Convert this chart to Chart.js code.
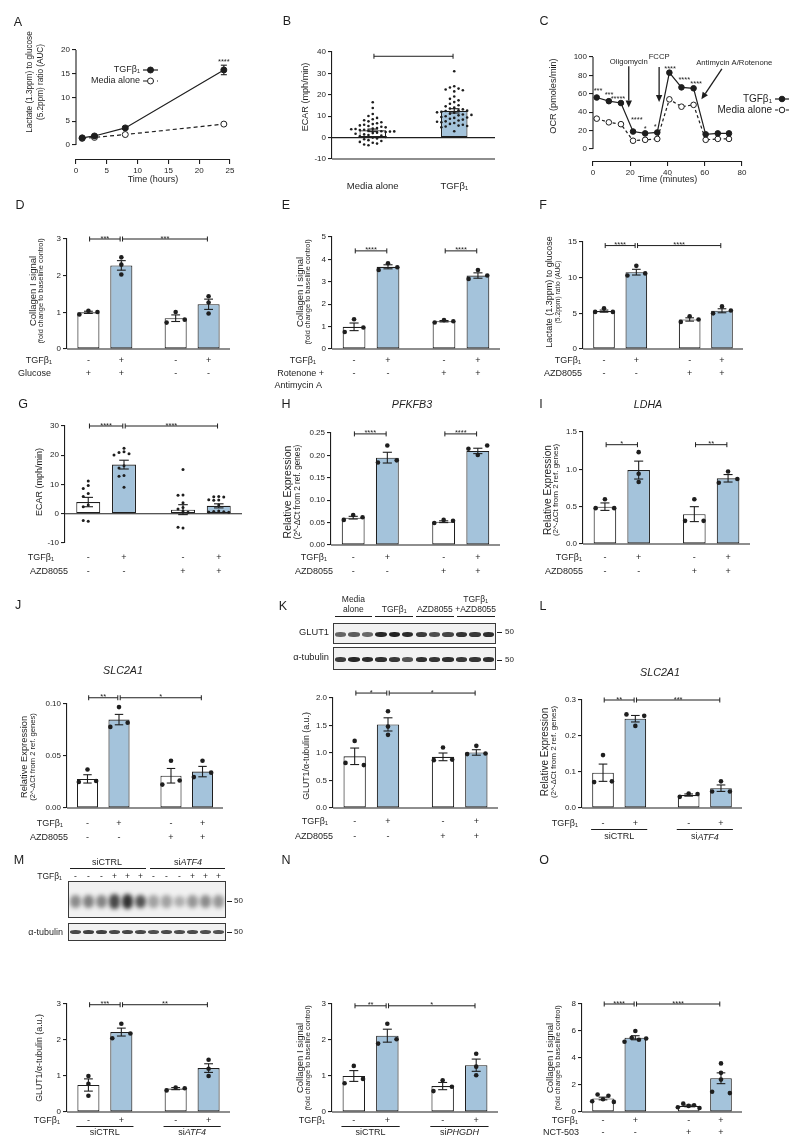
<!DOCTYPE html>
<html>
<head>
<meta charset="utf-8">
<script src="https://cdn.jsdelivr.net/npm/chart.js@4.4.1/dist/chart.umd.min.js"></script>
<style>
html,body{margin:0;padding:0;background:#fff;}
#fig{position:relative;width:800px;height:1137px;overflow:hidden;background:#fff;font-family:"Liberation Sans",Arial,Helvetica,sans-serif;color:#1e1e1e;}
#fig canvas{position:absolute;}
.t{position:absolute;white-space:nowrap;line-height:1;}
.blot{position:absolute;border:1px solid #3a3a3a;background:#f1f1f1;overflow:hidden;box-sizing:border-box;}
.band{position:absolute;border-radius:45%;}
.hl{position:absolute;height:0;border-top:1px solid #1e1e1e;}
</style>
</head>
<body>
<div id="fig"></div>
<script>
/* ================= DATA ================= */
// Panel A
const timeA = [1, 3, 8, 24];
const tgfA = [1.5, 1.9, 3.6, 15.8];
const tgfSemA = [0.1, 0.2, 0.3, 1.0];
const mediaA = [1.4, 1.6, 2.2, 4.4];
const xTicksA = [0, 5, 10, 15, 20, 25];
const yTicksA = [0, 5, 10, 15, 20];
const seriesNames = ['TGFβ₁', 'Media alone'];

// Panel B
const groupsB = ['Media alone', 'TGFβ₁'];
const meanB = [3.4, 12.5];
const semB = [0.6, 1.0];
const mediaPtsB = [16.5, 13.8, 11.0, 10.1, 9.2, 8.6, 8.1, 7.6, 7.2, 6.7, 6.3, 6.0, 5.7, 5.4, 5.1, 4.8, 4.5, 4.2, 4.0, 3.7, 3.5, 3.3, 3.0, 2.8, 2.6, 2.3, 2.1, 1.8, 1.5, 1.2, 0.9, 0.6, 0.3, 0.0, -0.4, -0.8, -1.2, -1.6, -2.0, -2.4, -2.8, -3.2, -3.6, 3.9, 2.9];
const tgfPtsB = [31.0, 24.0, 23.4, 22.9, 22.5, 22.1, 21.6, 19.2, 18.1, 17.4, 16.6, 15.8, 15.1, 14.6, 14.0, 13.6, 13.2, 12.8, 12.4, 12.0, 11.6, 11.2, 10.8, 10.4, 10.0, 9.6, 9.2, 8.8, 8.4, 8.0, 7.6, 7.2, 6.8, 6.4, 6.0, 5.6, 5.2, 4.8, 3.0, 12.6, 11.8, 10.6, 9.4, 7.4, 5.4];
const yTicksB = [-10, 0, 10, 20, 30, 40];

// Panel C
const timeC = [2, 8.5, 15, 21.5, 28, 34.5, 41, 47.5, 54, 60.5, 67, 73];
const tgfC = [56, 52, 50, 19, 17, 18, 83, 67, 66, 16, 17, 17];
const mediaC = [33, 29, 27, 9, 10, 11, 54, 46, 48, 10, 11, 11];
const xTicksC = [0, 20, 40, 60, 80];
const yTicksC = [0, 20, 40, 60, 80, 100];
const injectionsC = ['Oligomycin', 'FCCP', 'Antimycin A/Rotenone'];
const starsC = ['***', '***', '*****', '****', '*', '*', '****', '****', '****'];

// condition rows
const tgfMarks = ['-', '+', '-', '+'];
const drugMarks = ['-', '-', '+', '+'];
const glucoseMarks = ['+', '+', '-', '-'];
const laneTgfM = ['-', '-', '-', '+', '+', '+', '-', '-', '-', '+', '+', '+'];
const siCtrlLabel = [['si', ''], ['CTRL', '']];
const siAtf4Label = [['si', ''], ['ATF4', 'italic']];
const siPhgdhLabel = [['si', ''], ['PHGDH', 'italic']];

// Panel D
const meanD = [1.00, 2.28, 0.84, 1.22];
const semD = [0.03, 0.13, 0.09, 0.14];
const ptsD = [[0.94, 1.04, 1.01], [2.50, 2.30, 2.03], [0.72, 1.01, 0.80], [1.44, 1.27, 0.97]];
const yTicksD = [0, 1, 2, 3];
// Panel E
const meanE = [0.99, 3.67, 1.24, 3.28];
const semE = [0.17, 0.09, 0.03, 0.12];
const ptsE = [[0.76, 1.33, 0.96], [3.53, 3.83, 3.65], [1.18, 1.29, 1.24], [3.13, 3.53, 3.28]];
const yTicksE = [0, 1, 2, 3, 4, 5];
// Panel F
const meanF = [5.31, 10.77, 4.14, 5.36];
const semF = [0.15, 0.40, 0.23, 0.28];
const ptsF = [[5.2, 5.7, 5.2], [10.3, 11.66, 10.6], [3.8, 4.6, 4.14], [5.0, 5.97, 5.4]];
const yTicksF = [0, 5, 10, 15];
// Panel G
const meanG = [4.0, 16.8, 1.4, 2.7];
const semG = [1.6, 1.5, 1.7, 0.7];
const ptsG = [[11.2, 9.7, 8.6, 6.9, 5.9, 3.0, 2.4, -2.6, -2.3],
              [22.4, 21.2, 20.9, 20.5, 20.1, 16.4, 15.6, 13.1, 12.8, 9.1],
              [15.1, 6.4, 6.3, 3.8, 2.1, 1.6, 0.9, 0.5, -4.9, -4.6],
              [5.9, 5.8, 5.7, 4.8, 4.7, 4.6, 3.0, 0.9, 0.8, 0.7, 0.6, 0.5]];
const yTicksG = [-10, 0, 10, 20, 30];
// Panel H
const meanH = [0.061, 0.195, 0.052, 0.210];
const semH = [0.003, 0.012, 0.002, 0.006];
const ptsH = [[0.056, 0.067, 0.062], [0.184, 0.222, 0.189], [0.049, 0.056, 0.054], [0.201, 0.215, 0.222]];
const yTicksH = [0, 0.05, 0.10, 0.15, 0.20, 0.25];
// Panel I
const meanI = [0.50, 0.99, 0.40, 0.88];
const semI = [0.05, 0.12, 0.10, 0.05];
const ptsI = [[0.48, 0.60, 0.48], [0.83, 1.23, 0.94], [0.31, 0.60, 0.31], [0.82, 0.97, 0.87]];
const yTicksI = [0, 0.5, 1.0, 1.5];
// Panel J
const meanJ = [0.028, 0.085, 0.031, 0.035];
const semJ = [0.004, 0.005, 0.007, 0.005];
const ptsJ = [[0.025, 0.037, 0.026], [0.078, 0.097, 0.082], [0.0225, 0.0454, 0.0265], [0.0297, 0.0454, 0.034]];
const yTicksJ = [0, 0.05, 0.10];
// Panel K
const meanK = [0.94, 1.52, 0.93, 1.01];
const semK = [0.15, 0.12, 0.07, 0.05];
const ptsK = [[0.82, 1.22, 0.78], [1.76, 1.48, 1.33], [0.87, 1.10, 0.88], [0.98, 1.13, 0.99]];
const yTicksK = [0, 0.5, 1.0, 1.5, 2.0];
const laneGroupsK = ['TGFβ₁', 'AZD8055'];
const glutBandsK = [0.62, 0.66, 0.6, 0.9, 0.92, 0.88, 0.8, 0.72, 0.76, 0.84, 0.82, 0.86];
const tubBandsK = [0.8, 0.9, 0.88, 0.86, 0.82, 0.7, 0.86, 0.84, 0.86, 0.82, 0.84, 0.86];
// Panel L
const meanL = [0.098, 0.248, 0.036, 0.055];
const semL = [0.024, 0.009, 0.003, 0.009];
const ptsL = [[0.072, 0.147, 0.074], [0.26, 0.228, 0.256], [0.031, 0.04, 0.039], [0.046, 0.074, 0.046]];
const yTicksL = [0, 0.1, 0.2, 0.3];
// Panel M
const meanM = [0.75, 2.22, 0.65, 1.22];
const semM = [0.17, 0.11, 0.03, 0.12];
const ptsM = [[0.45, 1.0, 0.78], [2.05, 2.45, 2.18], [0.6, 0.68, 0.66], [1.0, 1.45, 1.2]];
const yTicksM = [0, 1, 2, 3];
const glutBandsM = [0.45, 0.5, 0.48, 0.75, 0.85, 0.7, 0.35, 0.35, 0.3, 0.4, 0.45, 0.4];
const tubBandsM = [0.75, 0.78, 0.78, 0.75, 0.76, 0.75, 0.72, 0.74, 0.72, 0.74, 0.72, 0.7];
// Panel N
const meanN = [1.0, 2.12, 0.72, 1.3];
const semN = [0.15, 0.18, 0.10, 0.17];
const ptsN = [[0.8, 1.28, 0.92], [1.9, 2.45, 2.02], [0.58, 0.88, 0.7], [1.02, 1.62, 1.26]];
const yTicksN = [0, 1, 2, 3];
// Panel O
const meanO = [1.0, 5.5, 0.45, 2.5];
const semO = [0.10, 0.15, 0.06, 0.40];
const ptsO = [[0.8, 1.3, 0.95, 1.2, 0.75], [5.2, 6.0, 5.5, 5.35, 5.45], [0.35, 0.62, 0.45, 0.5, 0.3], [1.5, 3.6, 2.4, 2.9, 1.4]];
const yTicksO = [0, 2, 4, 6, 8];

/* ================= HELPERS ================= */
const FF = '"Liberation Sans", Arial, Helvetica, sans-serif';
const INK = '#1e1e1e';
const BLUE = 'rgb(164,195,219)';
const WHITE = '#ffffff';
Chart.defaults.font.family = FF;
Chart.defaults.color = INK;
const fig = document.getElementById('fig');
const CFG = {};

function font(size, style) { return (style ? style + ' ' : '') + size + 'px ' + FF; }
function line(ctx, x1, y1, x2, y2) { ctx.beginPath(); ctx.moveTo(x1, y1); ctx.lineTo(x2, y2); ctx.stroke(); }
function arrow(ctx, x1, y1, x2, y2) {
  const a = Math.atan2(y2 - y1, x2 - x1), L = 7, W = 3.2;
  const bx = x2 - L * Math.cos(a), by = y2 - L * Math.sin(a);
  ctx.lineWidth = 1.3; line(ctx, x1, y1, bx, by);
  ctx.beginPath(); ctx.moveTo(x2, y2);
  ctx.lineTo(bx + W * Math.sin(a), by - W * Math.cos(a));
  ctx.lineTo(bx - W * Math.sin(a), by + W * Math.cos(a));
  ctx.closePath(); ctx.fill();
}
function segText(ctx, segs, cx, y, size) {
  let total = 0;
  segs.forEach(s => { ctx.font = font(size, s[1]); total += ctx.measureText(s[0]).width; });
  let x = cx - total / 2; ctx.textAlign = 'left';
  segs.forEach(s => { ctx.font = font(size, s[1]); ctx.fillText(s[0], x, y); x += ctx.measureText(s[0]).width; });
}
function txt(html, x, y, size, anchor, style) {
  const d = document.createElement('div'); d.className = 't'; d.innerHTML = html;
  const tx = anchor === 'r' ? '-100%' : anchor === 'l' ? '0' : '-50%';
  d.style.cssText += 'left:' + x + 'px;top:' + y + 'px;font-size:' + size + 'px;transform:translate(' + tx + ',-50%);' + (style || '');
  fig.appendChild(d);
}
function hline(x1, x2, y) {
  const d = document.createElement('div'); d.className = 'hl';
  d.style.left = x1 + 'px'; d.style.top = y + 'px'; d.style.width = (x2 - x1) + 'px';
  fig.appendChild(d);
}
function blot(x, y, w, h, bands, bandH, dy, blur) {
  const b = document.createElement('div'); b.className = 'blot';
  Object.assign(b.style, {left: x + 'px', top: y + 'px', width: w + 'px', height: h + 'px'});
  const lw = (w - 2) / bands.length;
  bands.forEach((a, i) => {
    const d = document.createElement('div'); d.className = 'band';
    const hh = bandH * (0.75 + 0.35 * a);
    Object.assign(d.style, {left: (i * lw + lw * 0.08) + 'px', width: (lw * 0.84) + 'px',
      top: ((h - 2) / 2 + dy - hh / 2) + 'px', height: hh + 'px',
      background: 'rgba(15,15,15,' + a + ')', filter: 'blur(' + blur + 'px)'});
    b.appendChild(d);
  });
  fig.appendChild(b);
}
function addCanvas(id, box) {
  const c = document.createElement('canvas'); c.id = id;
  c.width = box[2]; c.height = box[3];
  c.style.left = box[0] + 'px'; c.style.top = box[1] + 'px';
  c.style.width = box[2] + 'px'; c.style.height = box[3] + 'px';
  fig.appendChild(c); return c;
}

/* ---------- plugin drawing ---------- */
function swarm(chart, c) {
  const bars = chart.getDatasetMeta(0).data;
  const meta = chart.getDatasetMeta(1);
  const grp = chart.data.datasets[1].grp;
  const groups = [];
  meta.data.forEach((el, i) => { const g = grp[i]; (groups[g] = groups[g] || []).push(el); });
  groups.forEach((els, gi) => {
    if (!els) return;
    const bw = bars[gi].width;
    if (c.swarm) {
      const s = c.swarm.step, md = c.swarm.minDy, placed = [];
      els.forEach(el => {
        const bx = el.x;
        for (let k = 0; k < 80; k++) {
          const off = Math.ceil(k / 2) * (k % 2 ? -1 : 1) * s;
          if (!placed.some(p => Math.abs(p.off - off) < 0.01 && Math.abs(p.y - el.y) < md)) {
            el.x = bx + off; placed.push({off: off, y: el.y}); break;
          }
        }
      });
    } else {
      const th = 6, d = bw * 0.41, W = bw * 0.5;
      const order = els.map((_, i) => i).sort((a, b) => els[a].y - els[b].y);
      const clusters = []; let cur = [order[0]];
      for (let k = 1; k < order.length; k++) {
        if (els[order[k]].y - els[order[k - 1]].y < th) cur.push(order[k]);
        else { clusters.push(cur); cur = [order[k]]; }
      }
      clusters.push(cur);
      clusters.forEach(cl => {
        cl.sort((a, b) => a - b);
        const n = cl.length;
        cl.forEach((pi, j) => {
          let off = 0;
          if (n === 2) off = j ? d : -d;
          else if (n === 3) off = (j - 1) * d;
          else if (n > 3) off = -W + 2 * W * j / (n - 1);
          els[pi].x += off;
        });
      });
    }
  });
}
function baseAndErr(chart, c) {
  const ctx = chart.ctx, ys = chart.scales.y, ca = chart.chartArea, bars = chart.getDatasetMeta(0).data;
  ctx.save(); ctx.strokeStyle = INK; ctx.lineWidth = 1.1;
  const y0 = ys.getPixelForValue(0);
  line(ctx, ca.left, y0, ca.right, y0);
  if (c.bottomLine) line(ctx, ca.left, ca.bottom, ca.right, ca.bottom);
  c.means.forEach((m, i) => {
    const x = bars[i].x, hw = bars[i].width * 0.2;
    const t = ys.getPixelForValue(m + c.sems[i]), b = ys.getPixelForValue(m - c.sems[i]);
    line(ctx, x, t, x, b); line(ctx, x - hw, t, x + hw, t); line(ctx, x - hw, b, x + hw, b);
  });
  ctx.restore();
}
function bracketsDraw(chart, c) {
  const ctx = chart.ctx, ys = chart.scales.y, bars = chart.getDatasetMeta(0).data;
  ctx.save(); ctx.strokeStyle = INK; ctx.fillStyle = INK; ctx.lineWidth = 1;
  (c.brackets || []).forEach(b => {
    const x1 = bars[b[0]].x + 1.2, x2 = bars[b[1]].x - 1.2, y = ys.getPixelForValue(b[2]);
    line(ctx, x1, y, x2, y); line(ctx, x1, y - 2.5, x1, y + 2.5); line(ctx, x2, y - 2.5, x2, y + 2.5);
    if (b[3]) { ctx.font = font(7.5); ctx.textAlign = 'center'; ctx.textBaseline = 'alphabetic'; ctx.fillText(b[3], (x1 + x2) / 2, y + 1.5); }
  });
  ctx.restore();
}
function yLabel(chart, c) {
  const ctx = chart.ctx, L = c.ylab, ox = c.box[0], oy = c.box[1];
  const put = (t, x, s) => {
    ctx.save(); ctx.translate(x - ox, L.cy - oy); ctx.rotate(-Math.PI / 2);
    ctx.font = font(s); ctx.fillStyle = INK; ctx.textAlign = 'center'; ctx.textBaseline = 'middle';
    ctx.fillText(t, 0, 0); ctx.restore();
  };
  put(L.main, L.x, L.size);
  if (L.sub) put(L.sub, L.subX, L.subSize);
}
function rowsDraw(chart, c) {
  const ctx = chart.ctx, ox = c.box[0], oy = c.box[1], bars = chart.getDatasetMeta(0).data;
  ctx.save(); ctx.fillStyle = INK; ctx.strokeStyle = INK; ctx.lineWidth = 1; ctx.textBaseline = 'middle';
  (c.rows || []).forEach(r => {
    ctx.font = font(9); ctx.textAlign = 'right'; ctx.fillText(r.label, r.right - ox, r.y - oy);
    if (r.marks) { ctx.textAlign = 'center'; r.marks.forEach((m, i) => ctx.fillText(m, bars[i].x, r.y - oy)); }
  });
  if (c.under) c.under.groups.forEach(g => {
    const a = bars[g.from], b = bars[g.to];
    line(ctx, a.x - a.width * 0.55, c.under.lineY - oy, b.x + b.width * 0.55, c.under.lineY - oy);
    segText(ctx, g.label, (a.x + b.x) / 2, c.under.labelY - oy, 9);
  });
  if (c.cats) {
    ctx.font = font(9.5); ctx.textAlign = 'center';
    c.cats.labels.forEach((t, i) => ctx.fillText(t, bars[i].x, c.cats.y - oy));
  }
  ctx.restore();
}
function lineExtras(chart, c) {
  const ctx = chart.ctx, xs = chart.scales.x, ys = chart.scales.y, ca = chart.chartArea, oy = c.box[1];
  ctx.save(); ctx.strokeStyle = INK; ctx.fillStyle = INK; ctx.lineWidth = 1.1;
  line(ctx, ca.left, ys.getPixelForValue(0), ca.left, ys.getPixelForValue(c.yMax));
  if (c.err) c.err.forEach((s, i) => {
    const x = xs.getPixelForValue(c.x[i]);
    const t = ys.getPixelForValue(c.tgf[i] + s), b = ys.getPixelForValue(c.tgf[i] - s);
    line(ctx, x, t, x, b); line(ctx, x - 3, t, x + 3, t); line(ctx, x - 3, b, x + 3, b);
  });
  (c.stars || []).forEach(s => {
    ctx.font = font(7.5); ctx.textAlign = 'center'; ctx.textBaseline = 'alphabetic';
    ctx.fillText(s[2], xs.getPixelForValue(s[0]), ys.getPixelForValue(s[1]) + 4);
  });
  (c.arrows || []).forEach(a => {
    arrow(ctx, xs.getPixelForValue(a.from[0]), ys.getPixelForValue(a.from[1]), xs.getPixelForValue(a.to[0]), ys.getPixelForValue(a.to[1]));
    ctx.font = font(7.7); ctx.textAlign = 'center'; ctx.textBaseline = 'middle';
    ctx.fillText(a.label, xs.getPixelForValue(a.at[0]), ys.getPixelForValue(a.at[1]));
  });
  ctx.font = font(9); ctx.textAlign = 'center'; ctx.textBaseline = 'middle';
  ctx.fillText(c.xTitle, (ca.left + ca.right) / 2, c.xTitleY - oy);
  ctx.restore();
}
function legendDraw(chart, c) {
  const ctx = chart.ctx, L = c.legend, ox = c.box[0], oy = c.box[1];
  ctx.save();
  chart.data.datasets.forEach((ds, i) => {
    const y = L.y[i] - oy;
    ctx.fillStyle = INK; ctx.font = font(L.size); ctx.textAlign = 'right'; ctx.textBaseline = 'middle';
    ctx.fillText(ds.label, L.textRight - ox, y);
    ctx.strokeStyle = INK; ctx.lineWidth = 1.2; ctx.setLineDash(ds.borderDash || []);
    line(ctx, L.x1 - ox, y, L.x2 - ox, y); ctx.setLineDash([]);
    ctx.beginPath(); ctx.arc((L.x1 + L.x2) / 2 - ox, y, ds.pointRadius, 0, Math.PI * 2);
    ctx.fillStyle = ds.pointBackgroundColor; ctx.fill(); ctx.lineWidth = 1; ctx.stroke();
  });
  ctx.restore();
}
const figPlugin = {
  id: 'fig',
  afterDatasetsUpdate(chart) { const c = CFG[chart.canvas.id]; if (c && c.kind === 'bar') swarm(chart, c); },
  beforeDatasetDraw(chart, args) { const c = CFG[chart.canvas.id]; if (c && c.kind === 'bar' && args.index === 1) baseAndErr(chart, c); },
  afterDatasetsDraw(chart) { const c = CFG[chart.canvas.id]; if (!c) return; if (c.kind === 'bar') bracketsDraw(chart, c); else lineExtras(chart, c); },
  afterDraw(chart) { const c = CFG[chart.canvas.id]; if (!c) return; yLabel(chart, c); if (c.kind === 'bar') rowsDraw(chart, c); else legendDraw(chart, c); }
};

function yScale(min, max, ticks, dec, border) {
  return {
    min: min, max: max,
    afterFit: s => { s.width = 36; },
    afterBuildTicks: s => { s.ticks = ticks.map(v => ({value: v})); },
    ticks: {font: {size: 8, family: FF}, color: INK, padding: 2, autoSkip: false, callback: v => (+v).toFixed(dec)},
    grid: {display: true, drawOnChartArea: false, drawTicks: true, tickLength: 4, tickColor: INK, tickWidth: 1.1, color: INK, lineWidth: 1.1},
    border: {display: border, color: INK, width: 1.1}
  };
}

function barPanel(o) {
  const c = addCanvas(o.id, o.box);
  const [cx, cy, cw, ch] = o.box, [L, T, R, B] = o.area, W = 36;
  const pos = o.means.map((_, i) => i + (i >= 2 ? 0.65 : 0));
  CFG[o.id] = Object.assign({kind: 'bar'}, o);
  const dots = [], grp = [];
  o.pts.forEach((g, i) => g.forEach(v => { dots.push({x: pos[i], y: v}); grp.push(i); }));
  new Chart(c, {
    type: 'bar',
    data: {datasets: [
      {type: 'bar', data: o.means.map((m, i) => ({x: pos[i], y: m})),
       backgroundColor: o.means.map((_, i) => i % 2 ? BLUE : WHITE), borderColor: INK, borderWidth: 1.1,
       borderSkipped: false, categoryPercentage: 1, barPercentage: o.barPct || 0.67, order: 1},
      {type: 'scatter', data: dots, grp: grp, pointRadius: o.dotR || 2.3, pointHoverRadius: 0,
       pointBackgroundColor: INK, pointBorderWidth: 0, order: 0}
    ]},
    options: {
      responsive: false, animation: false, events: [],
      layout: {padding: {left: L - cx - W, top: T - cy, right: cx + cw - R, bottom: cy + ch - B}},
      plugins: {legend: {display: false}, tooltip: {enabled: false}},
      scales: {
        x: {type: 'linear', display: false, min: o.xMin !== undefined ? o.xMin : -0.65, max: o.xMax !== undefined ? o.xMax : 4.3, offset: false},
        y: yScale(o.yMin, o.yMax, o.ticks, o.dec, true)
      }
    },
    plugins: [figPlugin]
  });
}

function linePanel(o) {
  const c = addCanvas(o.id, o.box);
  const [cx, cy, cw, ch] = o.box, [L, T, R, B] = o.area, W = 36, H = 20;
  CFG[o.id] = Object.assign({kind: 'line'}, o);
  new Chart(c, {
    type: 'line',
    data: {datasets: [
      {label: seriesNames[0], data: o.x.map((t, i) => ({x: t, y: o.tgf[i]})), borderColor: INK, borderWidth: 1.2,
       pointRadius: o.r, pointBackgroundColor: INK, pointBorderColor: INK, pointBorderWidth: 1, tension: 0, fill: false},
      {label: seriesNames[1], data: o.x.map((t, i) => ({x: t, y: o.media[i]})), borderColor: INK, borderWidth: 1.2,
       borderDash: o.dash, pointRadius: o.r, pointBackgroundColor: '#ffffff', pointBorderColor: INK, pointBorderWidth: 1, tension: 0, fill: false}
    ]},
    options: {
      responsive: false, animation: false, events: [],
      layout: {padding: {left: L - cx - W, top: T - cy, right: cx + cw - R, bottom: cy + ch - B - H}},
      plugins: {legend: {display: false}, tooltip: {enabled: false}},
      scales: {
        x: {type: 'linear', min: o.xMin, max: o.xMax,
            afterFit: s => { s.height = H; },
            afterBuildTicks: s => { s.ticks = o.xTicks.map(v => ({value: v})); },
            ticks: {font: {size: 8, family: FF}, color: INK, padding: 2, autoSkip: false, maxRotation: 0, callback: v => String(v)},
            grid: {display: true, drawOnChartArea: false, drawTicks: true, tickLength: 4, tickColor: INK, tickWidth: 1.1, color: INK, lineWidth: 1.1},
            border: {display: true, color: INK, width: 1.1}},
        y: yScale(o.yMin, o.yMax, o.yTicks, 0, false)
      }
    },
    plugins: [figPlugin]
  });
}

/* ================= PANELS ================= */
linePanel({id: 'cA', box: [0, 0, 265, 195], area: [76, 50, 230, 160], x: timeA, tgf: tgfA, media: mediaA, r: 3, dash: [4, 3],
  xMin: 0, xMax: 25, xTicks: xTicksA, yMin: -3.16, yMax: 20, yTicks: yTicksA, err: tgfSemA,
  stars: [[24, 17.8, '****']], xTitle: 'Time (hours)', xTitleY: 180,
  ylab: {main: 'Lactate (1.3ppm) to glucose', x: 30, size: 8.2, sub: '(5.2ppm) ratio (AUC)', subX: 41, subSize: 8.2, cy: 82},
  legend: {textRight: 140, y: [70, 81], x1: 143, x2: 158, size: 9}});

barPanel({id: 'cB', box: [265, 0, 265, 195], area: [332, 52, 495, 159], yMin: -10, yMax: 40, ticks: yTicksB, dec: 0,
  means: meanB, sems: semB, pts: [mediaPtsB, tgfPtsB], xMin: -0.5, xMax: 1.5, barPct: 0.65, dotR: 1.3,
  swarm: {step: 4.3, minDy: 4.4}, bottomLine: true, brackets: [[0, 1, 38, '']],
  cats: {labels: groupsB, y: 186},
  ylab: {main: 'ECAR (mph/min)', x: 305, size: 9.1, cy: 97}});

linePanel({id: 'cC', box: [530, 0, 270, 195], area: [593, 57, 742, 162], x: timeC, tgf: tgfC, media: mediaC, r: 2.8, dash: [3, 2.5],
  xMin: 0, xMax: 80, xTicks: xTicksC, yMin: -14.1, yMax: 100, yTicks: yTicksC,
  stars: [[2.7, 65], [8.6, 61], [13.4, 57], [23.5, 34], [28, 24], [33.4, 26], [41.4, 89], [49, 77], [55.4, 73]].map((p, i) => [p[0], p[1], starsC[i]]),
  arrows: [{from: [19.2, 90], to: [19.2, 45], at: [19.2, 95], label: injectionsC[0]},
           {from: [35.5, 89], to: [35.5, 51], at: [35.5, 100.5], label: injectionsC[1]},
           {from: [69.2, 87], to: [58.2, 54], at: [75.8, 93.5], label: injectionsC[2]}],
  xTitle: 'Time (minutes)', xTitleY: 180,
  ylab: {main: 'OCR (pmoles/min)', x: 553, size: 9.1, cy: 96},
  legend: {textRight: 772, y: [99, 110], x1: 775, x2: 789, size: 10}});

barPanel({id: 'cD', box: [0, 190, 265, 205], area: [67, 239, 230, 349], yMin: 0, yMax: 3, ticks: yTicksD, dec: 0,
  means: meanD, sems: semD, pts: ptsD, brackets: [[0, 1, 3, '***'], [1, 3, 3, '***']],
  rows: [{label: 'TGFβ₁', marks: tgfMarks, y: 361, right: 52}, {label: 'Glucose', marks: glucoseMarks, y: 374, right: 51}],
  ylab: {main: 'Collagen I signal', x: 33, size: 9.5, sub: '(fold change to baseline control)', subX: 41, subSize: 7.4, cy: 291}});

barPanel({id: 'cE', box: [265, 190, 265, 205], area: [332, 237, 500, 349], yMin: 0, yMax: 5, ticks: yTicksE, dec: 0,
  means: meanE, sems: semE, pts: ptsE, brackets: [[0, 1, 4.38, '****'], [2, 3, 4.38, '****']],
  rows: [{label: 'TGFβ₁', marks: tgfMarks, y: 361, right: 316}, {label: 'Rotenone +', marks: drugMarks, y: 374, right: 324}, {label: 'Antimycin A', y: 386, right: 322}],
  ylab: {main: 'Collagen I signal', x: 300, size: 9.5, sub: '(fold change to baseline control)', subX: 308, subSize: 7.4, cy: 292}});

barPanel({id: 'cF', box: [530, 190, 270, 205], area: [583, 242, 743, 349], yMin: 0, yMax: 15, ticks: yTicksF, dec: 0,
  means: meanF, sems: semF, pts: ptsF, brackets: [[0, 1, 14.5, '****'], [1, 3, 14.5, '****']],
  rows: [{label: 'TGFβ₁', marks: tgfMarks, y: 361, right: 581}, {label: 'AZD8055', marks: drugMarks, y: 374, right: 582}],
  ylab: {main: 'Lactate (1.3ppm) to glucose', x: 550, size: 9, sub: '(5.2ppm) ratio (AUC)', subX: 558, subSize: 6.8, cy: 292}});

barPanel({id: 'cG', box: [0, 390, 265, 200], area: [65, 426, 242, 543], yMin: -10, yMax: 30, ticks: yTicksG, dec: 0,
  means: meanG, sems: semG, pts: ptsG, dotR: 1.5, swarm: {step: 5, minDy: 3.3},
  brackets: [[0, 1, 30, '****'], [1, 3, 30, '****']],
  rows: [{label: 'TGFβ₁', marks: tgfMarks, y: 558, right: 54}, {label: 'AZD8055', marks: drugMarks, y: 572, right: 68}],
  ylab: {main: 'ECAR (mph/min)', x: 40, size: 9, cy: 482}});

barPanel({id: 'cH', box: [265, 390, 265, 200], area: [331, 433, 500, 545], yMin: 0, yMax: 0.25, ticks: yTicksH, dec: 2,
  means: meanH, sems: semH, pts: ptsH, brackets: [[0, 1, 0.248, '****'], [2, 3, 0.248, '****']],
  rows: [{label: 'TGFβ₁', marks: tgfMarks, y: 558, right: 327}, {label: 'AZD8055', marks: drugMarks, y: 572, right: 333}],
  ylab: {main: 'Relative Expression', x: 288, size: 10.5, sub: '(2^-ΔCt from 2 ref. genes)', subX: 298, subSize: 8.2, cy: 492}});

barPanel({id: 'cI', box: [530, 390, 270, 200], area: [583, 432, 750, 544], yMin: 0, yMax: 1.5, ticks: yTicksI, dec: 1,
  means: meanI, sems: semI, pts: ptsI, brackets: [[0, 1, 1.33, '*'], [2, 3, 1.33, '**']],
  rows: [{label: 'TGFβ₁', marks: tgfMarks, y: 558, right: 582}, {label: 'AZD8055', marks: drugMarks, y: 572, right: 583}],
  ylab: {main: 'Relative Expression', x: 548, size: 10.2, sub: '(2^-ΔCt from 2 ref. genes)', subX: 556, subSize: 8, cy: 490}});

barPanel({id: 'cJ', box: [0, 590, 265, 260], area: [67, 704, 223, 808], yMin: 0, yMax: 0.10, ticks: yTicksJ, dec: 2,
  means: meanJ, sems: semJ, pts: ptsJ, brackets: [[0, 1, 0.106, '**'], [1, 3, 0.106, '*']],
  rows: [{label: 'TGFβ₁', marks: tgfMarks, y: 824, right: 63}, {label: 'AZD8055', marks: drugMarks, y: 838, right: 68}],
  ylab: {main: 'Relative Expression', x: 24, size: 9.3, sub: '(2^-ΔCt from 2 ref. genes)', subX: 33, subSize: 7.6, cy: 757}});

barPanel({id: 'cK', box: [265, 590, 265, 260], area: [333, 698, 498, 808], yMin: 0, yMax: 2, ticks: yTicksK, dec: 1,
  means: meanK, sems: semK, pts: ptsK, brackets: [[0, 1, 2.09, '*'], [1, 3, 2.09, '*']],
  rows: [{label: 'TGFβ₁', marks: tgfMarks, y: 822, right: 328}, {label: 'AZD8055', marks: drugMarks, y: 837, right: 333}],
  ylab: {main: 'GLUT1/α-tubulin (a.u.)', x: 307, size: 8.8, cy: 756}});

barPanel({id: 'cL', box: [530, 590, 270, 260], area: [582, 700, 742, 808], yMin: 0, yMax: 0.3, ticks: yTicksL, dec: 1,
  means: meanL, sems: semL, pts: ptsL, brackets: [[0, 1, 0.3, '**'], [1, 3, 0.3, '***']],
  rows: [{label: 'TGFβ₁', marks: tgfMarks, y: 824, right: 578}],
  under: {lineY: 829.5, labelY: 837, groups: [{from: 0, to: 1, label: siCtrlLabel}, {from: 2, to: 3, label: siAtf4Label}]},
  ylab: {main: 'Relative Expression', x: 545, size: 10, sub: '(2^-ΔCt from 2 ref. genes)', subX: 554, subSize: 8, cy: 752}});

barPanel({id: 'cM', box: [0, 848, 265, 289], area: [67, 1004, 230, 1112], yMin: 0, yMax: 3, ticks: yTicksM, dec: 0,
  means: meanM, sems: semM, pts: ptsM, brackets: [[0, 1, 2.98, '***'], [1, 3, 2.98, '**']],
  rows: [{label: 'TGFβ₁', marks: tgfMarks, y: 1121, right: 60}],
  under: {lineY: 1126.5, labelY: 1132.5, groups: [{from: 0, to: 1, label: siCtrlLabel}, {from: 2, to: 3, label: siAtf4Label}]},
  ylab: {main: 'GLUT1/α-tubulin (a.u.)', x: 40, size: 8.8, cy: 1058}});

barPanel({id: 'cN', box: [265, 848, 265, 289], area: [332, 1004, 498, 1112], yMin: 0, yMax: 3, ticks: yTicksN, dec: 0,
  means: meanN, sems: semN, pts: ptsN, brackets: [[0, 1, 2.95, '**'], [1, 3, 2.95, '*']],
  rows: [{label: 'TGFβ₁', marks: tgfMarks, y: 1121, right: 325}],
  under: {lineY: 1126.5, labelY: 1132.5, groups: [{from: 0, to: 1, label: siCtrlLabel}, {from: 2, to: 3, label: siPhgdhLabel}]},
  ylab: {main: 'Collagen I signal', x: 300, size: 9.5, sub: '(fold change to baseline control)', subX: 308, subSize: 7.4, cy: 1058}});

barPanel({id: 'cO', box: [530, 848, 270, 289], area: [582, 1004, 742, 1112], yMin: 0, yMax: 8, ticks: yTicksO, dec: 0,
  means: meanO, sems: semO, pts: ptsO, brackets: [[0, 1, 8, '****'], [1, 3, 8, '****']],
  rows: [{label: 'TGFβ₁', marks: tgfMarks, y: 1121, right: 578}, {label: 'NCT-503', marks: drugMarks, y: 1133, right: 579}],
  ylab: {main: 'Collagen I signal', x: 550, size: 9.5, sub: '(fold change to baseline control)', subX: 558, subSize: 7.4, cy: 1058}});

/* ================= TEXT, TITLES, BLOTS ================= */
[['A', 18, 22], ['B', 287, 21], ['C', 544, 21], ['D', 20, 205], ['E', 286, 205], ['F', 543, 205],
 ['G', 23, 404], ['H', 286, 404], ['I', 541, 404], ['J', 18, 605], ['K', 283, 606], ['L', 543, 606],
 ['M', 19, 860], ['N', 286, 860], ['O', 544, 860]].forEach(l => txt(l[0], l[1], l[2], 12.5));

txt('PFKFB3', 412, 404, 10.7, 'c', 'font-style:italic');
txt('LDHA', 648, 404, 10.7, 'c', 'font-style:italic');
txt('SLC2A1', 123, 670, 10.7, 'c', 'font-style:italic');
txt('SLC2A1', 660, 672, 10.7, 'c', 'font-style:italic');

// K blot
(function () {
  const x0 = 333, w = 163, gw = w / 4;
  txt('Media', x0 + gw * 0.5, 599, 8.5); txt('alone', x0 + gw * 0.5, 608.5, 8.5);
  txt(laneGroupsK[0], x0 + gw * 1.5, 608.5, 8.5);
  txt(laneGroupsK[1], x0 + gw * 2.5, 608.5, 8.5);
  txt(laneGroupsK[0], x0 + gw * 3.5, 599, 8.5); txt('+' + laneGroupsK[1], x0 + gw * 3.5, 608.5, 8.5);
  for (let g = 0; g < 4; g++) hline(x0 + gw * g + 1.5, x0 + gw * (g + 1) - 1.5, 616);
  blot(x0, 623, w, 21, glutBandsK, 5, 1, 0.7);
  blot(x0, 647, w, 23, tubBandsK, 4.5, 1, 0.6);
  txt('GLUT1', 329, 633, 9.3, 'r');
  txt('α-tubulin', 329, 658, 9.3, 'r');
  hline(497, 502, 632); txt('50', 505, 632, 8, 'l');
  hline(497, 502, 660); txt('50', 505, 660, 8, 'l');
})();

// M blot
(function () {
  const x0 = 68, w = 158, lw = (w - 2) / 12;
  txt('siCTRL', 107, 862, 9); txt('si<i>ATF4</i>', 188, 862, 9);
  hline(70, 146, 868); hline(150, 225, 868);
  txt('TGFβ₁', 62, 876, 8.5, 'r');
  laneTgfM.forEach((m, i) => txt(m, x0 + 1 + lw * (i + 0.5), 876, 8.5));
  blot(x0, 881, w, 37, glutBandsM, 14, 2, 2);
  blot(x0, 923, w, 18, tubBandsM, 4, 0, 0.6);
  txt('α-tubulin', 63, 932, 9, 'r');
  hline(227, 232, 901); txt('50', 234, 901, 8, 'l');
  hline(227, 232, 932); txt('50', 234, 932, 8, 'l');
})();
</script>
</body>
</html>
